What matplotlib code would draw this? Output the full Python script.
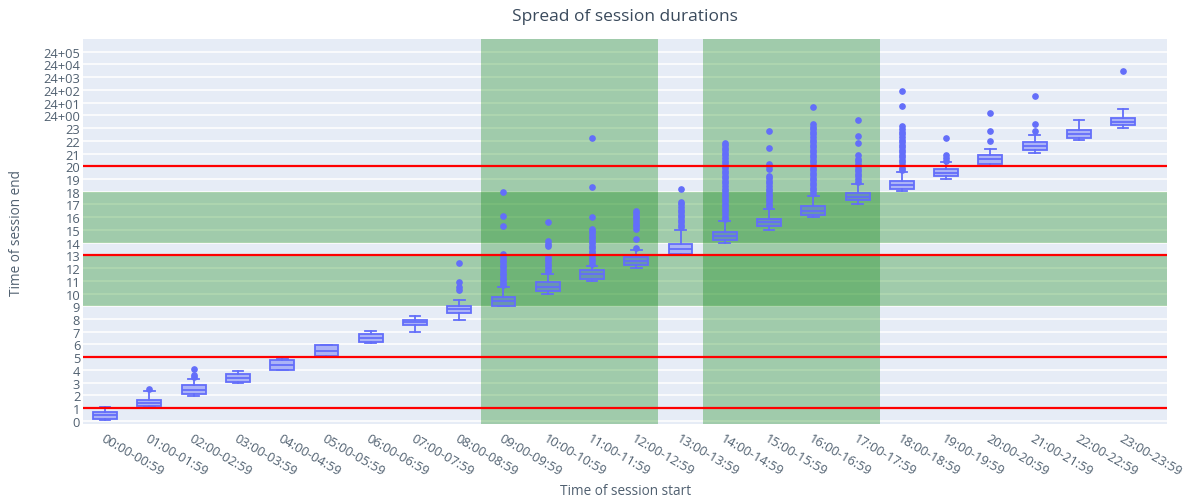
import matplotlib
matplotlib.use("Agg")
import matplotlib.pyplot as plt

plt.rcParams['font.family'] = ['Open Sans', 'DejaVu Sans']

hours = ['00:00-00:59', '01:00-01:59', '02:00-02:59', '03:00-03:59', '04:00-04:59',
         '05:00-05:59', '06:00-06:59', '07:00-07:59', '08:00-08:59', '09:00-09:59',
         '10:00-10:59', '11:00-11:59', '12:00-12:59', '13:00-13:59', '14:00-14:59',
         '15:00-15:59', '16:00-16:59', '17:00-17:59', '18:00-18:59', '19:00-19:59',
         '20:00-20:59', '21:00-21:59', '22:00-22:59', '23:00-23:59']

# box statistics per start hour (hours since midnight of session end)
whislo = [0.05, 1.06, 1.94, 2.96, 4.00, 5.05, 6.10, 6.97, 7.96, 9.00, 9.93, 10.98,
          12.03, 13.00, 14.00, 15.00, 16.00, 17.06, 18.06, 19.02, 20.02, 21.07, 22.04, 23.01]
q1 = [0.16, 1.15, 2.12, 3.04, 4.02, 5.13, 6.19, 7.55, 8.49, 9.06, 10.17, 11.16,
      12.21, 13.10, 14.17, 15.28, 16.20, 17.32, 18.24, 19.24, 20.20, 21.30, 22.22, 23.21]
med = [0.42, 1.40, 2.45, 3.40, 4.40, 5.50, 6.50, 7.75, 8.75, 9.40, 10.50, 11.50,
       12.55, 13.50, 14.50, 15.60, 16.50, 17.60, 18.50, 19.50, 20.55, 21.60, 22.55, 23.50]
q3 = [0.68, 1.60, 2.78, 3.69, 4.74, 5.92, 6.84, 7.94, 9.02, 9.72, 10.90, 11.82,
      12.87, 13.90, 14.83, 15.88, 16.85, 17.90, 18.81, 19.81, 20.86, 21.90, 22.88, 23.80]
whishi = [1.07, 2.35, 3.30, 3.95, 4.87, 5.98, 7.02, 8.23, 9.46, 10.50, 11.56, 12.20,
          13.39, 15.00, 15.67, 16.67, 17.70, 18.63, 19.55, 20.34, 21.38, 22.43, 23.66, 24.53]

outliers = [
    [],
    [2.5],
    [3.45, 3.6, 4.1],
    [],
    [],
    [],
    [],
    [],
    [10.3, 10.5, 10.9, 12.4],
    [10.65, 10.85, 11.05, 11.25, 11.45, 11.65, 11.85, 12.05, 12.25, 12.45, 12.65, 12.85,
     13.1, 15.3, 16.1, 18.0],
    [11.75, 11.95, 12.15, 12.35, 12.55, 12.75, 12.9, 13.7, 13.9, 14.1, 15.6],
    [12.35, 12.55, 12.75, 12.95, 13.15, 13.35, 13.55, 13.75, 13.95, 14.15, 14.35, 14.55,
     14.75, 14.95, 15.1, 16.0, 18.4, 22.2],
    [13.55, 14.25, 15.1, 15.3, 15.5, 15.7, 15.9, 16.1, 16.3, 16.5],
    [15.2, 15.4, 15.6, 15.8, 16.0, 16.2, 16.4, 16.6, 16.8, 17.0, 17.2, 18.2],
    [15.85, 16.05, 16.25, 16.45, 16.65, 16.85, 17.05, 17.25, 17.45, 17.65, 17.85, 18.05,
     18.25, 18.45, 18.65, 18.85, 19.05, 19.25, 19.45, 19.65, 19.85, 20.05, 20.25, 20.45,
     20.65, 20.85, 21.05, 21.25, 21.45, 21.65, 21.8],
    [16.85, 17.05, 17.25, 17.45, 17.65, 17.85, 18.05, 18.25, 18.45, 18.65, 18.85, 19.05,
     19.2, 19.8, 20.0, 20.2, 21.4, 22.75],
    [17.9, 18.1, 18.3, 18.5, 18.7, 18.9, 19.1, 19.3, 19.5, 19.7, 19.9, 20.1, 20.3, 20.5,
     20.7, 20.9, 21.1, 21.3, 21.5, 21.7, 21.9, 22.1, 22.3, 22.5, 22.7, 22.9, 23.1, 23.35,
     24.65],
    [18.8, 19.0, 19.2, 19.4, 19.6, 19.8, 20.0, 20.2, 20.4, 20.6, 20.85, 21.8, 22.4, 23.6],
    [19.7, 19.9, 20.1, 20.3, 20.5, 20.7, 20.9, 21.1, 21.3, 21.5, 21.7, 21.9, 22.1, 22.3,
     22.5, 22.7, 22.9, 23.2, 24.7, 25.9],
    [20.45, 20.65, 20.85, 22.25],
    [21.95, 22.75, 24.2],
    [22.75, 23.35, 25.55],
    [],
    [27.5],
]

yticks = list(range(30))
ylabels = [str(h) for h in range(24)] + ['24+00', '24+01', '24+02', '24+03', '24+04', '24+05']

# highlighted periods
busy_starts = [(8.5, 12.5), (13.5, 17.5)]
busy_ends = [(9, 13), (14, 18)]
limits = [1, 5, 13, 20]

blue = '#636efa'
txt = '#506070'

fig = plt.figure(figsize=(11.91, 5.02), dpi=100)
ax = fig.add_axes([0.0697, 0.1534, 0.9105, 0.7669])
ax.set_facecolor('#e6ecf6')

stats = []
for i in range(len(hours)):
    stats.append({'whislo': whislo[i], 'q1': q1[i], 'med': med[i], 'q3': q3[i],
                  'whishi': whishi[i], 'fliers': outliers[i]})

ax.set_axisbelow(True)
ax.grid(axis='y', color='white', linewidth=1.1)
ax.grid(axis='x', visible=False)

for a, b in busy_starts:
    ax.axvspan(a, b, color='green', alpha=0.3, lw=0, zorder=1)
for a, b in busy_ends:
    ax.axhspan(a, b, color='green', alpha=0.3, lw=0, zorder=1)

ax.bxp(stats, positions=range(len(hours)), widths=0.54, capwidths=0.24,
       patch_artist=True, showfliers=True, zorder=2,
       boxprops=dict(facecolor=(0.39, 0.43, 0.98, 0.45), edgecolor=blue, linewidth=1.3),
       medianprops=dict(color=blue, linewidth=1.3),
       whiskerprops=dict(color=blue, linewidth=1.3),
       capprops=dict(color=blue, linewidth=1.3),
       flierprops=dict(marker='o', markersize=3.8, markerfacecolor=blue,
                       markeredgecolor=blue, linestyle='none'))

for y in limits:
    ax.axhline(y, color='red', linewidth=1.6, zorder=3)

ax.set_xlim(-0.5, 24)
ax.set_ylim(-0.25, 30)
ax.set_xticks(range(len(hours)))
ax.set_xticklabels(hours, rotation=-30, ha='left', va='top', rotation_mode='anchor',
                   fontsize=9.3, color=txt)
ax.set_yticks(yticks)
ax.set_yticklabels(ylabels, fontsize=9.3, color=txt)
ax.tick_params(axis='both', length=0)
ax.tick_params(axis='y', pad=2)
ax.tick_params(axis='x', pad=5)
for s in ax.spines.values():
    s.set_visible(False)

ax.set_title('Spread of session durations', fontsize=12.5, color='#3a4a5c', pad=14)
ax.set_xlabel('Time of session start', fontsize=9.8, color=txt, labelpad=4)
ax.set_ylabel('Time of session end', fontsize=9.8, color=txt, labelpad=14)

fig.savefig('out.png', dpi=100)
